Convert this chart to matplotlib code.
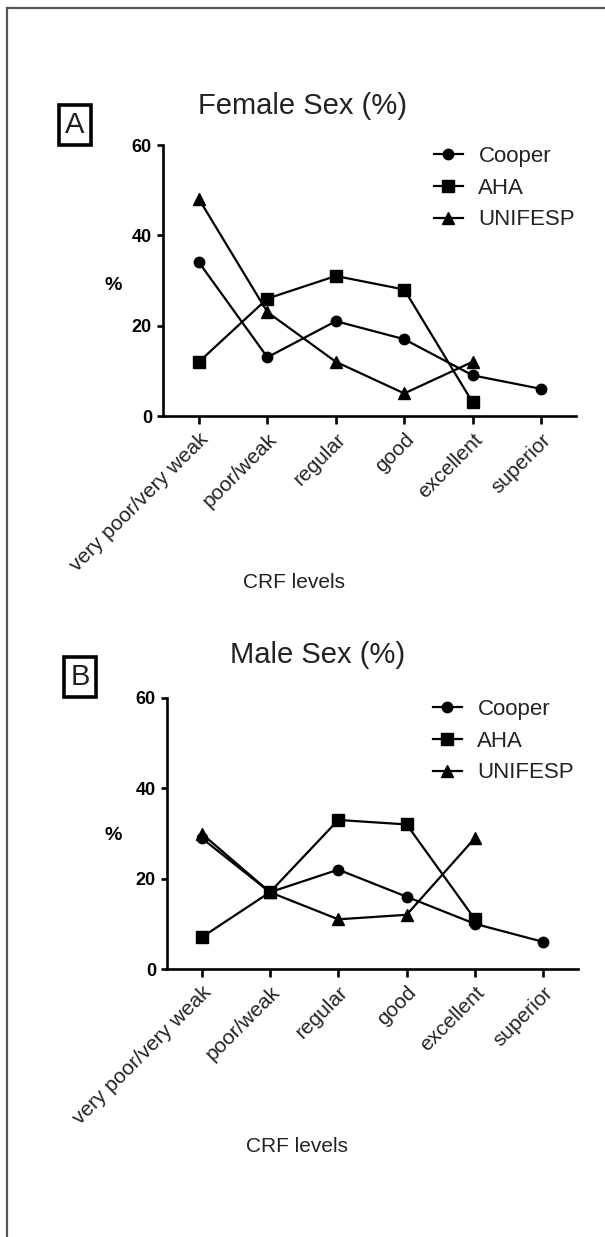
import numpy as np
import matplotlib
matplotlib.use("Agg")
import matplotlib.pyplot as plt
from matplotlib.lines import Line2D

plt.rcParams['font.family'] = ['Liberation Sans', 'DejaVu Sans']

# CRF level categories
categories = ['very poor/very weak', 'poor/weak', 'regular', 'good', 'excellent', 'superior']
series_names = ['Cooper', 'AHA', 'UNIFESP']

# Female sex (%)
cooper_f  = [34, 13, 21, 17, 9, 6]
aha_f     = [12, 26, 31, 28, 3, np.nan]
unifesp_f = [48, 23, 12, 5, 12, np.nan]

# Male sex (%)
cooper_m  = [29, 17, 22, 16, 10, 6]
aha_m     = [7, 17, 33, 32, 11, np.nan]
unifesp_m = [30, 17, 11, 12, 29, np.nan]

yticks = [0, 20, 40, 60]

markers = ['o', 's', '^']
msizes = [7.5, 8.5, 8.5]

fig = plt.figure(figsize=(6.05, 12.37), dpi=100, facecolor='w')
W, H = 605.0, 1237.0

def fx(px):
    return px / W

def fy(py):
    return 1 - py / H

# thin scan frame (left + top)
fig.add_artist(Line2D([fx(7), fx(7)], [fy(8), 0], color='#555555', lw=1.6))
fig.add_artist(Line2D([fx(7), 1], [fy(8), fy(8)], color='#555555', lw=1.6))


def panel(rect, data, title, title_xy, letter, letter_xy, pct_xy, crf_xy, leg_xy, xlim):
    ax = fig.add_axes(rect)
    x = np.arange(len(categories))
    for vals, m, ms, name in zip(data, markers, msizes, series_names):
        ax.plot(x, vals, color='black', lw=1.6, marker=m, ms=ms,
                markerfacecolor='black', markeredgecolor='black', label=name)
    ax.set_xlim(*xlim)
    ax.set_ylim(0, 60)
    ax.set_yticks(yticks)
    ax.set_yticklabels([str(t) for t in yticks], fontweight='bold', fontsize=13)
    ax.set_xticks(x)
    ax.set_xticklabels(categories, rotation=45, ha='right', rotation_mode='anchor',
                       fontsize=15, color='#222222')
    for s in ['top', 'right']:
        ax.spines[s].set_visible(False)
    for s in ['left', 'bottom']:
        ax.spines[s].set_linewidth(1.9)
    ax.tick_params(axis='y', length=4.5, width=1.9, pad=3.5)
    ax.tick_params(axis='x', length=6, width=1.9, pad=4)
    ax.patch.set_visible(False)

    fig.text(fx(title_xy[0]), fy(title_xy[1]), title, fontsize=21, color='#222222',
             ha='center', va='center')
    fig.text(fx(letter_xy[0]), fy(letter_xy[1]), letter, fontsize=21, color='#222222',
             ha='center', va='center',
             bbox=dict(boxstyle='square,pad=0.2', facecolor='white',
                       edgecolor='black', linewidth=2.6))
    fig.text(fx(pct_xy[0]), fy(pct_xy[1]), '%', fontsize=14, fontweight='bold',
             ha='center', va='center')
    fig.text(fx(crf_xy[0]), fy(crf_xy[1]), 'CRF levels', fontsize=15, color='#222222',
             ha='center', va='center')

    leg = ax.legend(loc='upper left', bbox_to_anchor=(fx(leg_xy[0]), fy(leg_xy[1])),
                    bbox_transform=fig.transFigure, frameon=False, fontsize=16,
                    handlelength=1.3, handletextpad=0.7, labelspacing=0.48,
                    borderpad=0, borderaxespad=0)
    for t in leg.get_texts():
        t.set_color('#222222')
    return ax


panel([fx(163), fy(416), fx(576) - fx(163), 271 / H],
      [cooper_f, aha_f, unifesp_f], 'Female Sex (%)', (302, 106),
      'A', (75, 125), (113, 285), (294, 583), (434, 146), (-0.526, 5.51))

panel([fx(167), fy(969), fx(577.5) - fx(167), 271 / H],
      [cooper_m, aha_m, unifesp_m], 'Male Sex (%)', (318, 655),
      'B', (80, 677), (113, 835), (297, 1146), (433, 699), (-0.506, 5.50))

fig.savefig('out.png', dpi=100)
